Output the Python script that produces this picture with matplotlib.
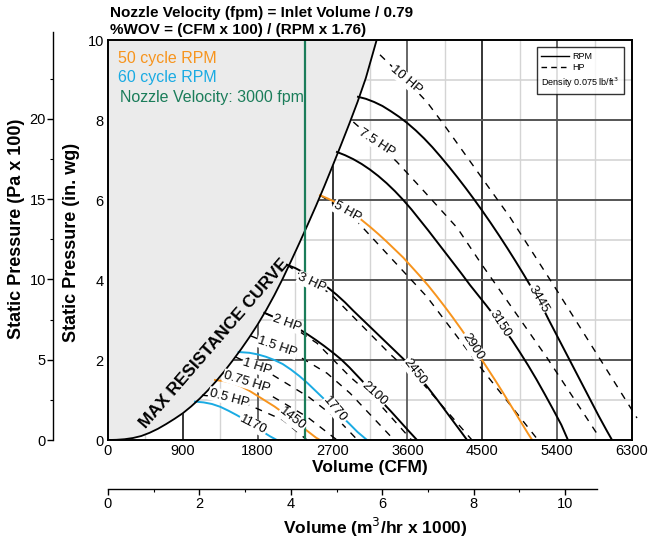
import numpy as np
import matplotlib
matplotlib.use('Agg')
import matplotlib.pyplot as plt
from matplotlib.lines import Line2D

plt.rcParams['font.family'] = ['Liberation Sans', 'DejaVu Sans']

# max resistance curve (CFM, in. wg)
max_cfm = [0, 100, 200, 300, 400, 500, 600, 700, 800, 900, 1000, 1100, 1200, 1300, 1400,
           1500, 1600, 1700, 1800, 1900, 2000, 2100, 2200, 2300, 2400, 2500, 2600, 2700,
           2800, 2900, 3000, 3100, 3230]
max_sp = [0, 0.005, 0.02, 0.05, 0.1, 0.18, 0.28, 0.4, 0.53, 0.67, 0.84, 1.03, 1.24, 1.47,
          1.72, 1.99, 2.27, 2.57, 2.89, 3.24, 3.62, 4.03, 4.47, 4.92, 5.38, 5.85, 6.34,
          6.85, 7.37, 7.9, 8.45, 9.05, 10.0]

# fan RPM curves
rpm_names = ['1170', '1450', '1770', '2100', '2450', '2900', '3150', '3445']
rpm_cfm = [
    [1046, 1150, 1250, 1350, 1450, 1550, 1650, 1750, 1850, 1950, 2030],
    [1286, 1400, 1500, 1600, 1700, 1800, 1900, 2000, 2100, 2200, 2300, 2400, 2500, 2549],
    [1570, 1700, 1800, 1900, 2000, 2100, 2200, 2300, 2400, 2500, 2600, 2700, 2800, 2900,
     3000, 3114],
    [1880, 2000, 2100, 2200, 2300, 2400, 2500, 2600, 2700, 2800, 2900, 3000, 3100, 3200,
     3300, 3400, 3500, 3600, 3715],
    [2152, 2250, 2350, 2450, 2550, 2650, 2750, 2850, 2950, 3050, 3150, 3250, 3350, 3450,
     3550, 3650, 3750, 3850, 3950, 4050, 4150, 4250, 4317],
    [2549, 2650, 2750, 2850, 2950, 3050, 3150, 3250, 3350, 3450, 3550, 3650, 3750, 3850,
     3950, 4050, 4150, 4250, 4350, 4450, 4550, 4650, 4750, 4850, 4950, 5050, 5100],
    [2753, 2850, 2950, 3050, 3150, 3250, 3350, 3450, 3550, 3650, 3750, 3850, 3950, 4050,
     4150, 4250, 4350, 4450, 4550, 4650, 4750, 4850, 4950, 5050, 5150, 5250, 5350, 5450,
     5530],
    [3006, 3100, 3200, 3300, 3400, 3500, 3600, 3700, 3800, 3900, 4000, 4100, 4200, 4300,
     4400, 4500, 4600, 4700, 4800, 4900, 5000, 5100, 5200, 5300, 5400, 5500, 5600, 5700,
     5800, 5900, 6000, 6060],
]
rpm_sp = [
    [0.96, 0.94, 0.9, 0.83, 0.73, 0.62, 0.5, 0.36, 0.22, 0.09, 0],
    [1.5, 1.47, 1.42, 1.34, 1.23, 1.1, 0.97, 0.84, 0.69, 0.54, 0.38, 0.22, 0.06, 0],
    [2.2, 2.18, 2.14, 2.08, 2.0, 1.9, 1.76, 1.6, 1.42, 1.22, 1.02, 0.82, 0.61, 0.41,
     0.2, 0],
    [3.18, 3.07, 2.98, 2.88, 2.77, 2.64, 2.5, 2.35, 2.19, 2.02, 1.82, 1.6, 1.38, 1.16,
     0.94, 0.72, 0.49, 0.26, 0],
    [4.38, 4.3, 4.19, 4.07, 3.94, 3.8, 3.63, 3.44, 3.23, 3.03, 2.83, 2.63, 2.43, 2.23,
     2.03, 1.8, 1.56, 1.3, 1.03, 0.75, 0.47, 0.19, 0],
    [6.12, 6.03, 5.93, 5.8, 5.65, 5.5, 5.33, 5.15, 4.96, 4.76, 4.56, 4.33, 4.1, 3.86,
     3.6, 3.33, 3.05, 2.76, 2.46, 2.15, 1.83, 1.51, 1.18, 0.84, 0.5, 0.16, 0],
    [7.2, 7.12, 7.02, 6.9, 6.76, 6.6, 6.42, 6.22, 6.0, 5.76, 5.5, 5.24, 4.97, 4.7,
     4.43, 4.16, 3.88, 3.62, 3.36, 3.09, 2.8, 2.52, 2.2, 1.87, 1.52, 1.15, 0.77, 0.38, 0],
    [8.58, 8.53, 8.45, 8.35, 8.22, 8.08, 7.92, 7.74, 7.54, 7.32, 7.08, 6.83, 6.57, 6.3,
     6.02, 5.73, 5.43, 5.12, 4.8, 4.47, 4.13, 3.78, 3.42, 3.0, 2.6, 2.2, 1.8, 1.4, 1.0,
     0.6, 0.22, 0],
]
rpm_lab_cfm = [1743, 2212, 2729, 3198, 3691, 4388, 4713, 5170]
rpm_lab_sp = [0.38, 0.52, 0.76, 1.16, 1.7, 2.34, 2.91, 3.53]
rpm_lab_rot = [-27, -38, -50, -42, -52, -57, -57, -60]

# HP curves
hp_names = ['10 HP', '7.5 HP', '5 HP', '3 HP', '2 HP', '1.5 HP', '1 HP', '0.75 HP', '0.5 HP']
hp_cfm = [
    [3270, 3583, 3835, 4050, 4833, 5400, 6360],
    [2950, 3234, 3475, 3790, 4200, 4473, 5280, 5891],
    [2549, 2873, 3054, 3835, 4473, 5170],
    [2152, 2453, 2669, 3390, 3790, 4376],
    [1880, 2152, 2513, 2910, 3186, 3650],
    [1720, 2032, 2272, 2633, 2910, 3440],
    [1530, 1791, 1984, 2410, 2770, 3000],
    [1380, 1671, 1984, 2393, 2753],
    [1130, 1455, 1743, 2104, 2393],
]
hp_sp = [
    [9.63, 9.0, 8.45, 7.85, 5.57, 3.73, 0.55],
    [7.95, 7.43, 6.95, 6.24, 5.3, 4.45, 2.05, 0.12],
    [6.12, 5.7, 5.33, 3.58, 1.83, 0],
    [4.38, 3.93, 3.67, 2.15, 1.4, 0],
    [3.18, 2.92, 2.42, 1.58, 1.08, 0],
    [2.6, 2.33, 2.12, 1.67, 1.17, 0],
    [2.08, 1.82, 1.62, 1.08, 0.5, 0],
    [1.67, 1.45, 1.08, 0.58, 0],
    [1.12, 1.05, 0.83, 0.5, 0],
]
hp_lab_cfm = [3583, 3234, 2873, 2453, 2152, 2032, 1791, 1671, 1455]
hp_lab_sp = [9.0, 7.43, 5.7, 3.93, 2.92, 2.33, 1.82, 1.45, 1.05]
hp_lab_rot = [-40, -33, -29, -25, -20, -19, -18, -17, -15]

nozzle_cfm = 2370

orange = '#f7941d'
blue = '#1aabe3'
green = '#1b7d5a'
rpm_colors = [blue, orange, blue, 'black', 'black', orange, 'black', 'black']

fig = plt.figure(figsize=(6.49, 5.40), dpi=100)
ax = fig.add_axes([108/649, 100/540, 524/649, 400/540])
ax.set_xlim(0, 6300)
ax.set_ylim(0, 10)

# grid
for x in range(450, 6300, 900):
    ax.axvline(x, color='#d4d4d4', lw=1.0, zorder=0.5)
for x in [1800, 3600, 5400]:
    ax.axvline(x, color='#5a5a5a', lw=1.3, zorder=0.6)
for x in [900, 2700, 4500]:
    ax.axvline(x, color='black', lw=1.1, zorder=0.6)
for y in [1, 3, 5, 7, 9]:
    ax.axhline(y, color='#d4d4d4', lw=1.2, zorder=0.5)
for y in [2, 4, 6, 8]:
    ax.axhline(y, color='#555555', lw=1.4, zorder=0.6)

# max resistance region
ax.fill_betweenx(max_sp, 0, max_cfm, color='#ebebeb', zorder=1, lw=0)
ax.plot(max_cfm, max_sp, color='black', lw=1.3, zorder=3)
ax.text(1275, 2.42, 'MAX RESISTANCE CURVE', rotation=49, rotation_mode='anchor',
        ha='center', va='center', fontsize=12.5, fontweight='bold', zorder=4)

for cx, cy, c in zip(rpm_cfm, rpm_sp, rpm_colors):
    ax.plot(cx, cy, color=c, lw=1.4, zorder=2.5)
for cx, cy in zip(hp_cfm, hp_sp):
    ax.plot(cx, cy, color='black', lw=1.0, ls=(0, (5, 5)), zorder=2.4, clip_on=False)

lab_box = dict(facecolor='white', edgecolor='none', pad=0.6)
for name, x, y, r in zip(rpm_names, rpm_lab_cfm, rpm_lab_sp, rpm_lab_rot):
    ax.text(x, y, name, rotation=r, rotation_mode='anchor', ha='center', va='center',
            fontsize=9.5, bbox=lab_box, zorder=4)
for name, x, y, r in zip(hp_names, hp_lab_cfm, hp_lab_sp, hp_lab_rot):
    ax.text(x, y, name, rotation=r, rotation_mode='anchor', ha='center', va='center',
            fontsize=9.5, bbox=lab_box, zorder=4)

ax.axvline(nozzle_cfm, color=green, lw=1.6, zorder=3.5)

ax.text(0.019, 0.955, '50 cycle RPM', color=orange, fontsize=11.5, transform=ax.transAxes,
        va='center', zorder=5)
ax.text(0.019, 0.9075, '60 cycle RPM', color=blue, fontsize=11.5, transform=ax.transAxes,
        va='center', zorder=5)
ax.text(0.023, 0.8575, 'Nozzle Velocity: 3000 fpm', color=green, fontsize=11.5,
        transform=ax.transAxes, va='center', zorder=5)

handles = [Line2D([], [], color='black', lw=1.0),
           Line2D([], [], color='black', lw=1.0, ls=(0, (4, 3)))]
leg = ax.legend(handles, ['RPM', 'HP'], loc='upper right', title='Density 0.075 lb/ft$^3$',
                title_fontsize=6.5, alignment='left',
                bbox_to_anchor=(0.984, 0.982), fontsize=6.5, frameon=True, fancybox=False,
                handlelength=3.1, handletextpad=0.3, labelspacing=0.3, borderpad=0.5,
                borderaxespad=0)
# put the density line under the entries
leg._legend_box._children = leg._legend_box._children[::-1]
leg.get_frame().set_edgecolor('black')
leg.get_frame().set_linewidth(1.0)
leg.set_zorder(6)

ax.set_xticks(range(0, 6301, 900))
ax.set_yticks(range(0, 11, 2))
ax.tick_params(length=0, labelsize=10.5, pad=3)
for s in ax.spines.values():
    s.set_linewidth(1.4)
    s.set_zorder(5)
ax.set_xlabel('Volume (CFM)', fontsize=12.5, fontweight='bold', labelpad=1)

# Pa x 100 axis
axp = fig.add_axes([53/649, 100/540, 0.0001, 408/540])
axp.set_ylim(0, 25.4)
axp.set_yticks([0, 5, 10, 15, 20])
axp.set_yticks([2.5, 7.5, 12.5, 17.5, 22.5], minor=True)
axp.xaxis.set_visible(False)
for k in ['top', 'right', 'bottom']:
    axp.spines[k].set_visible(False)
axp.spines['left'].set_linewidth(1.0)
axp.tick_params(axis='y', which='major', length=4, width=1.0, labelsize=10.5, pad=1)
axp.tick_params(axis='y', which='minor', length=2.5, width=0.8)
axp.patch.set_visible(False)

# m3/hr axis
axm = fig.add_axes([108/649, 51/540, 489/649, 0.0001])
axm.set_xlim(0, 10.7)
axm.set_xticks([0, 2, 4, 6, 8, 10])
axm.set_xticks([1, 3, 5, 7, 9], minor=True)
axm.yaxis.set_visible(False)
for k in ['top', 'right', 'left']:
    axm.spines[k].set_visible(False)
axm.spines['bottom'].set_linewidth(1.0)
axm.tick_params(axis='x', which='major', length=4, width=1.0, labelsize=10.5, pad=2)
axm.tick_params(axis='x', which='minor', length=2.5, width=0.8)
axm.patch.set_visible(False)

fig.text(375/649, 1 - 527/540, 'Volume (m$^3$/hr x 1000)', ha='center', va='center',
         fontsize=12.5, fontweight='bold')
fig.text(17/649, 1 - 229/540, 'Static Pressure (Pa x 100)', rotation=90, ha='center',
         va='center', fontsize=13, fontweight='bold')
fig.text(72/649, 1 - 242/540, 'Static Pressure (in. wg)', rotation=90, ha='center',
         va='center', fontsize=13, fontweight='bold')
fig.text(110/649, 1 - 13/540, 'Nozzle Velocity (fpm) = Inlet Volume / 0.79', ha='left',
         va='center', fontsize=11, fontweight='bold')
fig.text(110/649, 1 - 30/540, '%WOV = (CFM x 100) / (RPM x 1.76)', ha='left',
         va='center', fontsize=11, fontweight='bold')

fig.savefig('out.png', dpi=100)
